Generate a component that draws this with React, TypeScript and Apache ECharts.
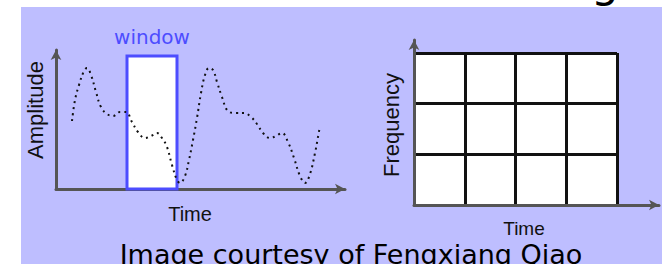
import React, { useEffect, useRef } from "react";
import * as echarts from "echarts";

// Left panel: signal amplitude vs time (units)
const times = [16, 19, 23, 28, 31, 35, 40, 45, 51, 57, 64, 70, 76, 82, 89, 95, 101, 106, 111, 116, 121, 124, 129, 133, 137, 141, 145, 149, 153, 157, 161, 166, 172, 180, 188, 195, 201, 207, 214, 220, 226, 232, 238, 244, 249, 254, 259, 262, 264];
const amplitudes = [68, 89, 104, 118, 121, 114, 97, 82, 75, 73, 77, 77, 67, 57, 51, 53, 56, 51, 42, 24, 9, 6, 13, 29, 49, 71, 96, 114, 121, 119, 107, 92, 78, 76, 76, 72, 65, 56, 51, 53, 56, 47, 31, 13, 6, 15, 36, 52, 63];
const timeMax = 289;
const ampMax = 139;
const windowStart = [71];
const windowEnd = [121];
const windowHeight = [133];

// Right panel: time-frequency tiling
const tfCols = [4];
const tfRows = [3];

const labels = {
  window: "window",
  amplitude: "Amplitude",
  time: "Time",
  frequency: "Frequency",
  caption: "Image courtesy of Fengxiang Qiao",
  title: "g",
};

export default function App() {
  const ref = useRef<HTMLDivElement>(null);
  useEffect(() => {
    if (!ref.current) return;
    const chart = echarts.init(ref.current, null, { renderer: "svg" });
    const axisColor = "#555555";
    const hidden = { show: false };
    const option: any = {
      animation: false,
      backgroundColor: "#ffffff",
      grid: [
        { left: 56, top: 50, width: 289, height: 139, show: false },
        { left: 414, top: 53, width: 203, height: 152, show: true, backgroundColor: "#ffffff", borderWidth: 0 },
        { left: 414, top: 40, width: 245, height: 165, show: false },
      ],
      xAxis: [
        {
          gridIndex: 0, type: "value", min: 0, max: timeMax,
          axisLine: { show: true, symbol: ["none", "arrow"], symbolSize: [8, 10], lineStyle: { color: axisColor, width: 3 } },
          axisTick: hidden, axisLabel: hidden, splitLine: hidden,
        },
        {
          gridIndex: 1, type: "value", min: 0, max: tfCols[0], interval: 1,
          axisLine: hidden, axisTick: hidden, axisLabel: hidden,
          splitLine: { show: true, showMinLine: true, showMaxLine: true, lineStyle: { color: "#111111", width: 3 } },
        },
        {
          gridIndex: 2, type: "value", min: 0, max: 1,
          axisLine: { show: true, symbol: ["none", "arrow"], symbolSize: [8, 10], lineStyle: { color: axisColor, width: 3 } },
          axisTick: hidden, axisLabel: hidden, splitLine: hidden,
        },
      ],
      yAxis: [
        {
          gridIndex: 0, type: "value", min: 0, max: ampMax,
          axisLine: { show: true, symbol: ["none", "arrow"], symbolSize: [8, 10], lineStyle: { color: axisColor, width: 3 } },
          axisTick: hidden, axisLabel: hidden, splitLine: hidden,
        },
        {
          gridIndex: 1, type: "value", min: 0, max: tfRows[0], interval: 1,
          axisLine: hidden, axisTick: hidden, axisLabel: hidden,
          splitLine: { show: true, showMinLine: true, showMaxLine: true, lineStyle: { color: "#111111", width: 3 } },
        },
        {
          gridIndex: 2, type: "value", min: 0, max: 1,
          axisLine: { show: true, symbol: ["none", "arrow"], symbolSize: [8, 10], lineStyle: { color: axisColor, width: 3 } },
          axisTick: hidden, axisLabel: hidden, splitLine: hidden,
        },
      ],
      series: [
        {
          type: "line",
          xAxisIndex: 0,
          yAxisIndex: 0,
          data: [],
          silent: true,
          markArea: {
            silent: true,
            itemStyle: { color: "#ffffff", borderColor: "#4d4dff", borderWidth: 3 },
            label: {
              show: true, position: "top", distance: 8, color: "#4d4dff",
              fontFamily: "DejaVu Sans", fontSize: 20, formatter: labels.window,
            },
            data: [[
              { name: labels.window, xAxis: windowStart[0], yAxis: windowHeight[0] },
              { xAxis: windowEnd[0], yAxis: 0 },
            ]],
          },
        },
        {
          type: "line",
          xAxisIndex: 0,
          yAxisIndex: 0,
          smooth: 0.4,
          symbol: "none",
          silent: true,
          data: times.map((t, i) => [t, amplitudes[i]]),
          lineStyle: { color: "#111111", width: 2, type: [2, 4] },
        },
      ],
      graphic: [
        { type: "rect", z: -100, shape: { x: 21, y: 7, width: 662, height: 264 }, style: { fill: "#bebeff" }, silent: true },
        {
          type: "text", x: 605, y: -19,
          style: { text: labels.title, fontFamily: "DejaVu Sans", fontSize: 44, fill: "#000", align: "center", verticalAlign: "middle" },
        },
        {
          type: "text", x: 35, y: 110, rotation: Math.PI / 2,
          style: { text: labels.amplitude, fontFamily: "Liberation Sans", fontSize: 22, fill: "#111", align: "center", verticalAlign: "middle" },
        },
        {
          type: "text", x: 190, y: 214,
          style: { text: labels.time, fontFamily: "Liberation Sans", fontSize: 20, fill: "#111", align: "center", verticalAlign: "middle" },
        },
        {
          type: "text", x: 391, y: 125, rotation: Math.PI / 2,
          style: { text: labels.frequency, fontFamily: "Liberation Sans", fontSize: 22, fill: "#111", align: "center", verticalAlign: "middle" },
        },
        {
          type: "text", x: 524, y: 228,
          style: { text: labels.time, fontFamily: "Liberation Sans", fontSize: 19, fill: "#111", align: "center", verticalAlign: "middle" },
        },
        {
          type: "text", x: 351, y: 254,
          style: { text: labels.caption, fontFamily: "DejaVu Sans", fontSize: 27, fill: "#000", align: "center", verticalAlign: "middle" },
        },
      ],
    };
    chart.setOption(option);
    return () => chart.dispose();
  }, []);
  return (
    <div
      ref={ref}
      style={{ position: "fixed", left: 0, top: 0, width: 662, height: 264 }}
    />
  );
}
